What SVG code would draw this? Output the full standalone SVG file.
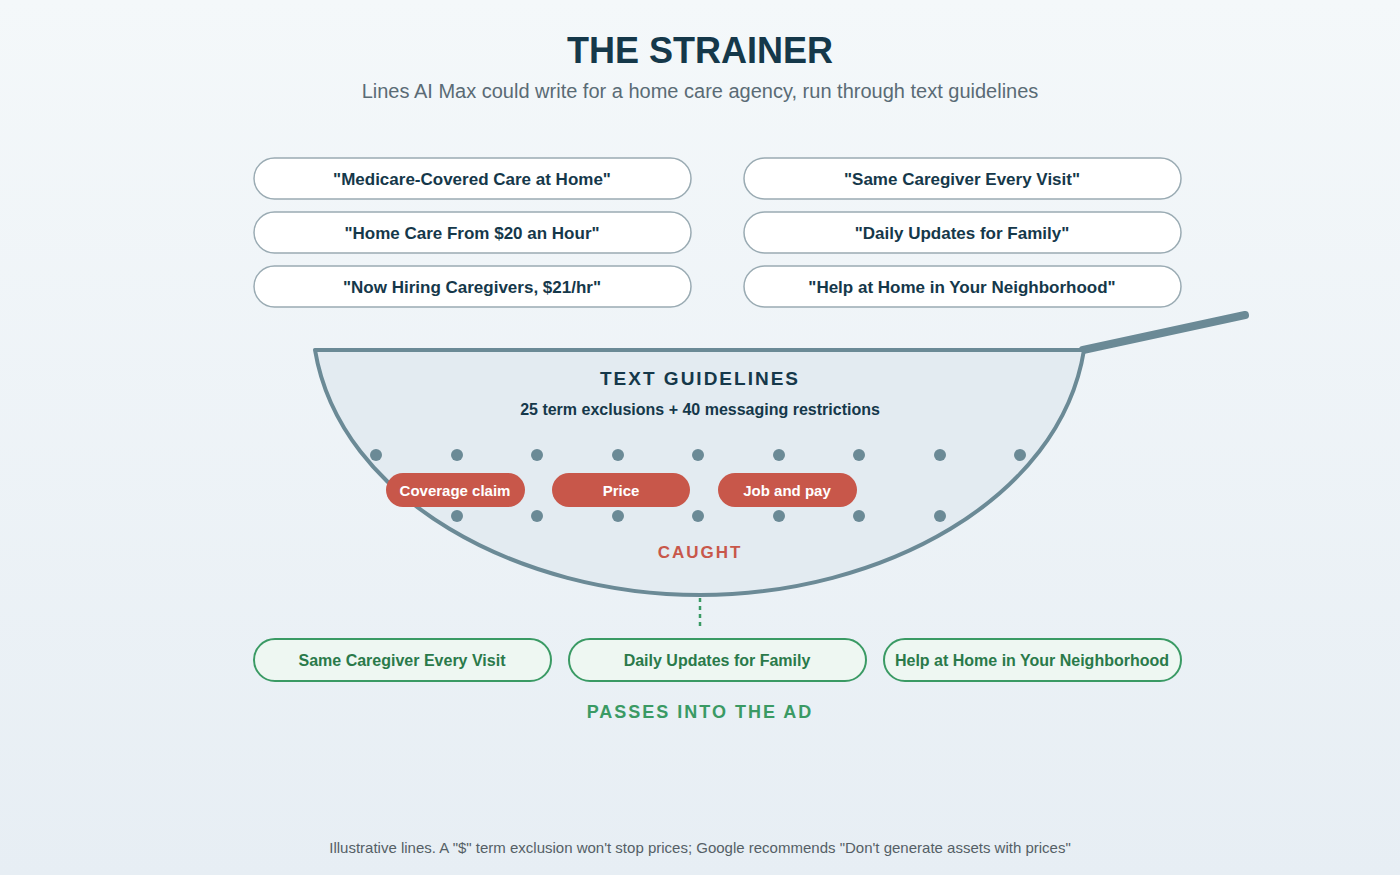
<svg xmlns="http://www.w3.org/2000/svg" width="1400" height="875" viewBox="0 0 1400 875">
<defs>
<linearGradient id="bg" x1="0" y1="0" x2="0" y2="1"><stop offset="0" stop-color="#f4f8fa"/><stop offset="1" stop-color="#e7eef4"/></linearGradient>
<style>
text{font-family:"Liberation Sans",Arial,sans-serif;text-anchor:middle}
.in rect{fill:#fff;stroke:#9aabb3;stroke-width:1.5}
.in text{font-size:17px;font-weight:bold;fill:#15384a}
.red rect{fill:#c8574a}
.red text{font-size:15px;font-weight:bold;fill:#fff}
.out rect{fill:#eef7f2;stroke:#3a9a64;stroke-width:2}
.out text{font-size:16px;font-weight:bold;fill:#2a7a4a}
.dot{fill:#6b8a96}
</style>
</defs>
<rect width="1400" height="875" fill="url(#bg)"/>
<text x="700" y="63" font-size="36" font-weight="bold" fill="#15384a">THE STRAINER</text>
<text x="700" y="98" font-size="20" fill="#5a6b75">Lines AI Max could write for a home care agency, run through text guidelines</text>
<g id="in1" class="in"><rect x="254" y="158" width="437" height="41" rx="20.5"/><text x="472" y="185">"Medicare-Covered Care at Home"</text></g>
<g id="in2" class="in"><rect x="254" y="212" width="437" height="41" rx="20.5"/><text x="472" y="239">"Home Care From $20 an Hour"</text></g>
<g id="in3" class="in"><rect x="254" y="266" width="437" height="41" rx="20.5"/><text x="472" y="293">"Now Hiring Caregivers, $21/hr"</text></g>
<g id="in4" class="in"><rect x="744" y="158" width="437" height="41" rx="20.5"/><text x="962" y="185">"Same Caregiver Every Visit"</text></g>
<g id="in5" class="in"><rect x="744" y="212" width="437" height="41" rx="20.5"/><text x="962" y="239">"Daily Updates for Family"</text></g>
<g id="in6" class="in"><rect x="744" y="266" width="437" height="41" rx="20.5"/><text x="962" y="293">"Help at Home in Your Neighborhood"</text></g>
<g id="strainer">
<line x1="1083" y1="350" x2="1245" y2="315" stroke="#6b8a96" stroke-width="8" stroke-linecap="round"/>
<path d="M315,350 L1084,350 C1060,500 880,595 700,595 C520,595 340,500 315,350 Z" fill="#e3ebf1" stroke="#6b8a96" stroke-width="4" stroke-linejoin="round"/>
<text x="700" y="385" font-size="19" font-weight="bold" letter-spacing="2" fill="#15384a">TEXT GUIDELINES</text>
<text x="700" y="415" font-size="16" font-weight="bold" fill="#15384a">25 term exclusions + 40 messaging restrictions</text>
<g>
<circle class="dot" cx="376" cy="455" r="6"/><circle class="dot" cx="457" cy="455" r="6"/><circle class="dot" cx="537" cy="455" r="6"/><circle class="dot" cx="618" cy="455" r="6"/><circle class="dot" cx="698" cy="455" r="6"/><circle class="dot" cx="779" cy="455" r="6"/><circle class="dot" cx="859" cy="455" r="6"/><circle class="dot" cx="940" cy="455" r="6"/><circle class="dot" cx="1020" cy="455" r="6"/>
<circle class="dot" cx="457" cy="516" r="6"/><circle class="dot" cx="537" cy="516" r="6"/><circle class="dot" cx="618" cy="516" r="6"/><circle class="dot" cx="698" cy="516" r="6"/><circle class="dot" cx="779" cy="516" r="6"/><circle class="dot" cx="859" cy="516" r="6"/><circle class="dot" cx="940" cy="516" r="6"/>
</g>
<g id="c1" class="red"><rect x="386" y="473" width="139" height="34" rx="17"/><text x="455" y="496">Coverage claim</text></g>
<g id="c2" class="red"><rect x="552" y="473" width="138" height="34" rx="17"/><text x="621" y="496">Price</text></g>
<g id="c3" class="red"><rect x="718" y="473" width="139" height="34" rx="17"/><text x="787" y="496">Job and pay</text></g>
<text x="700" y="558" font-size="17" font-weight="bold" letter-spacing="2" fill="#c8574a">CAUGHT</text>
</g>
<g id="connectors"><line x1="700" y1="598" x2="700" y2="630" stroke="#3a9a64" stroke-width="2.5" stroke-dasharray="4,4"/></g>
<g id="o1" class="out"><rect x="254" y="639" width="297" height="42" rx="21"/><text x="402" y="666">Same Caregiver Every Visit</text></g>
<g id="o2" class="out"><rect x="569" y="639" width="297" height="42" rx="21"/><text x="717" y="666">Daily Updates for Family</text></g>
<g id="o3" class="out"><rect x="884" y="639" width="297" height="42" rx="21"/><text x="1032" y="666">Help at Home in Your Neighborhood</text></g>
<text x="700" y="718" font-size="18" font-weight="bold" letter-spacing="2" fill="#3a9a64">PASSES INTO THE AD</text>
<text x="700" y="853" font-size="15" fill="#555f66">Illustrative lines. A "$" term exclusion won't stop prices; Google recommends "Don't generate assets with prices"</text>
</svg>
